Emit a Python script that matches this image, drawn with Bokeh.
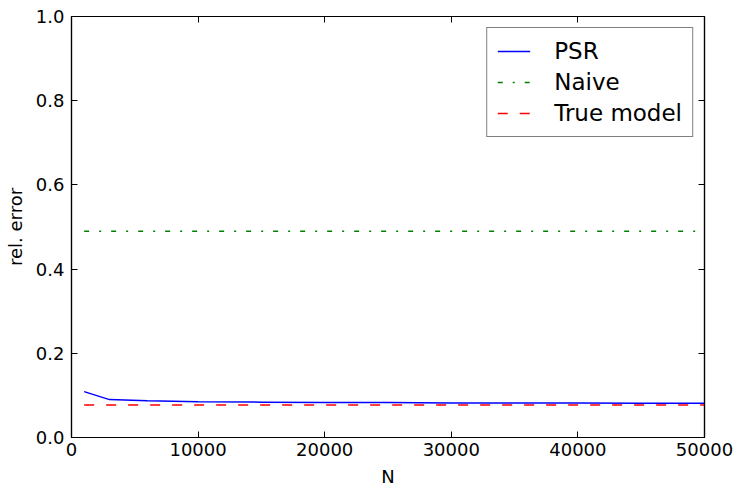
from bokeh.plotting import figure
from bokeh.models import (LinearAxis, FixedTicker, NumeralTickFormatter,
                          PrintfTickFormatter, Range1d, Legend, LegendItem,
                          CustomJSTickFormatter)
from bokeh.embed import file_html
from bokeh.resources import INLINE

# ---- data ----
n_values = [1000, 3000, 6000, 10000, 15000, 20000, 25000, 30000, 35000, 40000, 45000, 50000]
psr = [0.109, 0.090, 0.087, 0.085, 0.084, 0.083, 0.083, 0.082, 0.082, 0.082, 0.0815, 0.0815]
naive = [0.49, 0.49, 0.49, 0.49, 0.49, 0.49, 0.49, 0.49, 0.49, 0.49, 0.49, 0.49]
true_model = [0.077, 0.077, 0.077, 0.077, 0.077, 0.077, 0.077, 0.077, 0.077, 0.077, 0.077, 0.077]
x_ticks = [0, 10000, 20000, 30000, 40000, 50000]
y_ticks = [0.0, 0.2, 0.4, 0.6, 0.8, 1.0]
series_labels = ["PSR", "Naive", "True model"]

FONT = "DejaVu Sans"

p = figure(width=737, height=489, output_backend="svg", toolbar_location=None,
           x_range=Range1d(0, 50000), y_range=Range1d(0, 1.0),
           min_border_left=71, min_border_right=33, min_border_top=16,
           min_border_bottom=52, x_axis_location=None, y_axis_location=None)
p.xgrid.visible = False
p.ygrid.visible = False
p.outline_line_color = "black"
p.outline_line_width = 1.2
p.background_fill_color = "white"
p.border_fill_color = "white"

r1 = p.line(n_values, psr, line_color="#0000ff", line_width=1.5)
r2 = p.line(n_values, naive, line_color="#008000", line_width=1.5, line_dash="5 10 2 10")
r3 = p.line(n_values, true_model, line_color="#ff0000", line_width=1.5, line_dash="10 12")


def style_axis(ax, labels=True):
    ax.major_tick_in = 6
    ax.major_tick_out = 0
    ax.minor_tick_in = 0
    ax.minor_tick_out = 0
    ax.major_tick_line_color = "black"
    ax.major_tick_line_width = 1
    ax.axis_line_color = "black"
    ax.axis_line_width = 1.2
    ax.major_label_text_font = FONT
    ax.major_label_text_font_size = "18px"
    ax.major_label_text_color = "black"
    ax.axis_label_text_font = FONT
    ax.axis_label_text_font_size = "18px"
    ax.axis_label_text_font_style = "normal"
    ax.axis_label_text_color = "black"
    if not labels:
        ax.major_label_text_font_size = "0px"
        ax.major_label_standoff = 0


xb = LinearAxis(ticker=FixedTicker(ticks=x_ticks),
                formatter=PrintfTickFormatter(format="%d"), axis_label="N")
style_axis(xb)
xb.major_label_standoff = 5
xb.axis_label_standoff = 7
p.add_layout(xb, "below")

yl = LinearAxis(ticker=FixedTicker(ticks=y_ticks),
                formatter=NumeralTickFormatter(format="0.0"), axis_label="rel. error")
style_axis(yl)
yl.major_label_standoff = 7
yl.axis_label_standoff = 7
p.add_layout(yl, "left")

xt = LinearAxis(ticker=FixedTicker(ticks=x_ticks),
                formatter=CustomJSTickFormatter(code="return ''"))
style_axis(xt, labels=False)
p.add_layout(xt, "above")

yr = LinearAxis(ticker=FixedTicker(ticks=y_ticks),
                formatter=CustomJSTickFormatter(code="return ''"))
style_axis(yr, labels=False)
p.add_layout(yr, "right")

legend = Legend(items=[LegendItem(label=series_labels[0], renderers=[r1]),
                       LegendItem(label=series_labels[1], renderers=[r2]),
                       LegendItem(label=series_labels[2], renderers=[r3])],
                location="top_right")
legend.margin = 11
legend.padding = 10
legend.spacing = 5
legend.glyph_width = 33
legend.glyph_height = 22
legend.label_height = 22
legend.label_standoff = 24
legend.label_text_font = FONT
legend.label_text_font_size = "23px"
legend.label_text_color = "black"
legend.border_line_color = "black"
legend.border_line_width = 1.2
legend.background_fill_color = "white"
legend.background_fill_alpha = 1.0
p.add_layout(legend, "center")

open("out.html", "w").write(file_html(p, INLINE))
